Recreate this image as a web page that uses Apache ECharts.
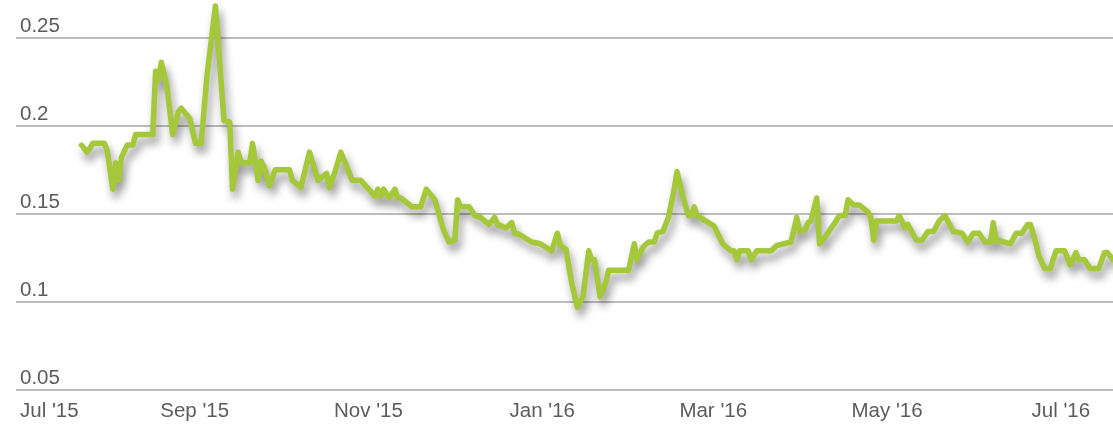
<!DOCTYPE html>
<html>
<head>
<meta charset="utf-8">
<script src="https://cdn.jsdelivr.net/npm/echarts@6/dist/echarts.min.js"></script>
<style>
  html, body { margin: 0; padding: 0; background: #ffffff; }
  #chart { width: 1113px; height: 425px; }
</style>
</head>
<body>
<div id="chart"></div>
<script>
// Daily readings, Jul 2015 – Jul 2016
const dates = [
  '2015-07-24','2015-07-26','2015-07-28','2015-08-01','2015-08-02','2015-08-04','2015-08-05','2015-08-06',
  '2015-08-07','2015-08-09','2015-08-11','2015-08-12','2015-08-18','2015-08-19','2015-08-20','2015-08-21',
  '2015-08-23','2015-08-25','2015-08-27','2015-08-28','2015-08-31','2015-09-02','2015-09-04','2015-09-06',
  '2015-09-09','2015-09-12','2015-09-14','2015-09-15','2015-09-17','2015-09-18','2015-09-21','2015-09-22',
  '2015-09-24','2015-09-25','2015-09-26','2015-09-28','2015-09-30','2015-10-05','2015-10-06','2015-10-09',
  '2015-10-12','2015-10-15','2015-10-18','2015-10-19','2015-10-21','2015-10-23','2015-10-27','2015-10-30',
  '2015-11-04','2015-11-05','2015-11-06','2015-11-07','2015-11-09','2015-11-11','2015-11-12','2015-11-13',
  '2015-11-17','2015-11-20','2015-11-22','2015-11-25','2015-11-28','2015-11-30','2015-12-02','2015-12-03',
  '2015-12-04','2015-12-07','2015-12-09','2015-12-11','2015-12-14','2015-12-16','2015-12-17','2015-12-20',
  '2015-12-22','2015-12-23','2015-12-25','2015-12-29','2016-01-01','2016-01-05','2016-01-07','2016-01-08',
  '2016-01-10','2016-01-12','2016-01-14','2016-01-16','2016-01-18','2016-01-19','2016-01-20','2016-01-22',
  '2016-01-24','2016-01-25','2016-02-01','2016-02-03','2016-02-04','2016-02-06','2016-02-08','2016-02-10',
  '2016-02-11','2016-02-13','2016-02-15','2016-02-17','2016-02-18','2016-02-20','2016-02-22','2016-02-23',
  '2016-02-24','2016-02-25','2016-02-27','2016-02-29','2016-03-02','2016-03-05','2016-03-08','2016-03-09',
  '2016-03-10','2016-03-11','2016-03-14','2016-03-15','2016-03-17','2016-03-22','2016-03-24','2016-03-29',
  '2016-03-31','2016-04-01','2016-04-03','2016-04-04','2016-04-05','2016-04-07','2016-04-08','2016-04-10',
  '2016-04-13','2016-04-15','2016-04-17','2016-04-18','2016-04-20','2016-04-22','2016-04-25','2016-04-26',
  '2016-04-27','2016-04-28','2016-05-05','2016-05-06','2016-05-08','2016-05-09','2016-05-12','2016-05-14',
  '2016-05-16','2016-05-18','2016-05-20','2016-05-22','2016-05-25','2016-05-28','2016-05-30','2016-06-01',
  '2016-06-03','2016-06-05','2016-06-07','2016-06-08','2016-06-09','2016-06-10','2016-06-14','2016-06-16',
  '2016-06-18','2016-06-20','2016-06-21','2016-06-23','2016-06-24','2016-06-26','2016-06-28','2016-06-30',
  '2016-07-03','2016-07-05','2016-07-07','2016-07-08','2016-07-10','2016-07-12','2016-07-15','2016-07-17',
  '2016-07-18','2016-07-20'
];

const values = [
  0.189, 0.185, 0.190, 0.190, 0.186, 0.164, 0.179, 0.169,
  0.182, 0.189, 0.189, 0.195, 0.195, 0.231, 0.226, 0.236,
  0.222, 0.195, 0.208, 0.210, 0.204, 0.190, 0.190, 0.228,
  0.268, 0.203, 0.202, 0.164, 0.185, 0.179, 0.179, 0.190,
  0.169, 0.180, 0.177, 0.166, 0.175, 0.175, 0.169, 0.165,
  0.185, 0.169, 0.173, 0.165, 0.174, 0.185, 0.169, 0.169,
  0.160, 0.164, 0.160, 0.164, 0.159, 0.164, 0.159, 0.159,
  0.154, 0.154, 0.164, 0.158, 0.141, 0.134, 0.135, 0.158,
  0.154, 0.154, 0.149, 0.148, 0.144, 0.148, 0.144, 0.142,
  0.145, 0.139, 0.138, 0.134, 0.133, 0.129, 0.139, 0.132,
  0.130, 0.111, 0.097, 0.103, 0.129, 0.124, 0.124, 0.103,
  0.111, 0.118, 0.118, 0.133, 0.124, 0.131, 0.134, 0.134,
  0.139, 0.140, 0.148, 0.164, 0.174, 0.160, 0.149, 0.149,
  0.154, 0.149, 0.147, 0.145, 0.143, 0.133, 0.129, 0.129,
  0.124, 0.129, 0.129, 0.124, 0.129, 0.129, 0.132, 0.134,
  0.148, 0.140, 0.141, 0.145, 0.146, 0.159, 0.133, 0.137,
  0.144, 0.149, 0.149, 0.158, 0.155, 0.155, 0.151, 0.148,
  0.135, 0.146, 0.146, 0.149, 0.142, 0.144, 0.135, 0.135,
  0.140, 0.140, 0.146, 0.149, 0.140, 0.139, 0.134, 0.139,
  0.139, 0.134, 0.134, 0.145, 0.134, 0.135, 0.133, 0.139,
  0.139, 0.144, 0.144, 0.133, 0.126, 0.119, 0.119, 0.129,
  0.129, 0.121, 0.128, 0.124, 0.124, 0.119, 0.119, 0.128,
  0.128, 0.124
];

// Bottom axis labels, every second month
const tickDates = ['2015-07-01','2015-09-01','2015-11-01','2016-01-01','2016-03-01','2016-05-01','2016-07-01'];
const tickLabels = ["Jul '15", "Sep '15", "Nov '15", "Jan '16", "Mar '16", "May '16", "Jul '16"];

const axisStart = '2015-07-01';
const axisEnd = '2016-07-20';

// Dates become millisecond timestamps on a numeric axis
const toTime = (s) => {
  const [y, m, d] = s.split('-').map(Number);
  return Date.UTC(y, m - 1, d);
};
const tickTimes = tickDates.map(toTime);

const labelFont = {
  color: '#5c5c5c',
  fontFamily: 'Liberation Sans, Arial, sans-serif',
  fontSize: 20.5
};

const chart = echarts.init(document.getElementById('chart'), null, { renderer: 'canvas' });

chart.setOption({
  animation: false,
  backgroundColor: '#ffffff',
  grid: { left: 16, right: 0, top: 10, bottom: 35, containLabel: false },
  xAxis: {
    type: 'value',
    min: toTime(axisStart),
    max: toTime(axisEnd),
    axisLine: { show: false },
    axisTick: { show: false },
    splitLine: { show: false },
    axisLabel: Object.assign({
      customValues: tickTimes,
      alignMinLabel: 'left',
      margin: 11,
      padding: [0, 0, 0, 4],
      formatter: (v) => {
        const i = tickTimes.indexOf(v);
        return i >= 0 ? tickLabels[i] : '';
      }
    }, labelFont)
  },
  yAxis: {
    type: 'value',
    min: 0.05,
    max: 0.2657,
    interval: 0.05,
    axisLine: { show: false },
    axisTick: { show: false },
    axisLabel: Object.assign({
      inside: true,
      showMaxLabel: false,
      verticalAlign: 'bottom',
      align: 'left',
      margin: 4,
      padding: [0, 0, 1, 0]
    }, labelFont),
    splitLine: {
      showMaxLine: false,
      lineStyle: { color: '#bdbdbd', width: 2 }
    }
  },
  series: [{
    type: 'line',
    data: dates.map((d, i) => [toTime(d), values[i]]),
    showSymbol: false,
    // the drop shadow is only painted when the line is not clipped
    clip: false,
    lineStyle: {
      color: '#a5c83a',
      width: 5.5,
      join: 'round',
      cap: 'round',
      shadowColor: 'rgba(0,0,0,0.42)',
      shadowBlur: 8,
      shadowOffsetX: 3,
      shadowOffsetY: 7
    },
    z: 3
  }]
});
</script>
</body>
</html>
